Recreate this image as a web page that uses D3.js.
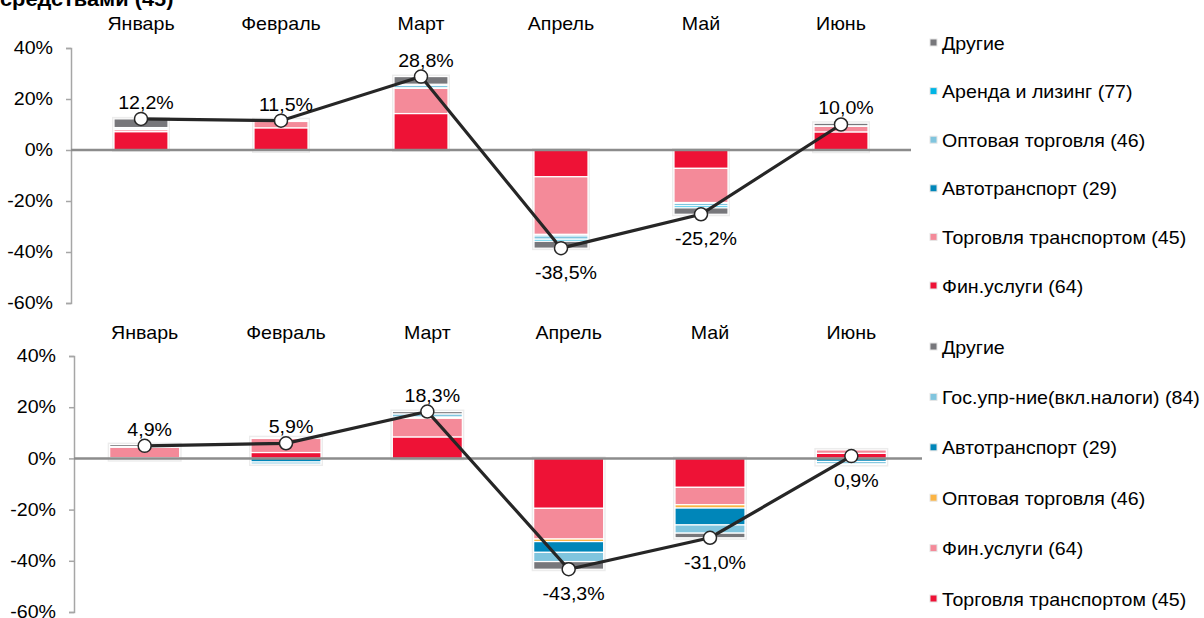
<!DOCTYPE html>
<html>
<head>
<meta charset="utf-8">
<script src="https://cdn.jsdelivr.net/npm/d3@7"></script>
<style>
  body { margin: 0; background: #fff; }
  svg { display: block; font-family: "Liberation Sans", Arial, sans-serif; }
</style>
</head>
<body>
<svg id="chart" width="1204" height="618"></svg>
<script>
// Months shared by both panels
const months = ['Январь', 'Февраль', 'Март', 'Апрель', 'Май', 'Июнь'];
const yTicks = [40, 20, 0, -20, -40, -60];

// Upper panel (stack order bottom -> top)
const topNames = ['Фин.услуги (64)', 'Торговля транспортом (45)', 'Автотранспорт (29)',
                  'Оптовая торговля (46)', 'Аренда и лизинг (77)', 'Другие'];
const topColors = ['#ee1236', '#f48a99', '#0086b9', '#80c5de', '#00b5e5', '#77777b'];
const topFin    = [7.2, 8.7, 14.3, -10.5, -7.2, 7.1];
const topTrade  = [0.8, 2.5, 9.9, -22.6, -13.4, 2.2];
const topAuto   = [0, 0, 0.2, -0.6, -0.3, 0];
const topWhole  = [0.5, -0.4, 1.0, -1.3, -1.0, -0.5];
const topLease  = [0.3, 0.3, 0.4, -0.8, -0.8, 0.2];
const topOther  = [3.4, 0.4, 3.0, -2.7, -2.5, 1.0];
const topTotals = [12.2, 11.5, 28.8, -38.5, -25.2, 10.0];
const topLabelSide = ['up', 'up', 'up', 'down', 'down', 'up'];

// Lower panel (stack order bottom -> top)
const botNames = ['Торговля транспортом (45)', 'Фин.услуги (64)', 'Оптовая торговля (46)',
                  'Автотранспорт (29)', 'Гос.упр-ние(вкл.налоги) (84)', 'Другие'];
const botColors = ['#ee1236', '#f48a99', '#fbb444', '#0086b9', '#80c5de', '#77777b'];
const botTrade  = [0.3, 2.3, 8.4, -19.5, -11.3, 2.0];
const botFin    = [4.1, 5.5, 7.3, -12.0, -6.8, 1.3];
const botWhole  = [0, 0, 0.3, -1.0, -1.3, 0];
const botAuto   = [-0.5, -1.4, 0.2, -4.2, -6.6, -1.2];
const botGov    = [0.2, -0.8, 1.2, -3.6, -3.2, -1.0];
const botOther  = [0.8, 0.3, 0.9, -3.0, -1.8, -0.2];
const botTotals = [4.9, 5.9, 18.3, -43.3, -31.0, 0.9];
const botLabelSide = ['up', 'up', 'up', 'down', 'down', 'down'];

const svg = d3.select('#chart');
const fmt = v => d3.format('.1f')(v).replace('.', ',').replace('\u2212', '-') + '%';

// cut-off title at the very top
svg.append('text')
    .attr('x', 0).attr('y', 6)
    .attr('font-size', 20).attr('font-weight', 'bold')
    .attr('fill', '#000')
    .text('средствами (45)');

function drawPanel(cfg) {
    const x = d3.scaleBand().domain(months).range(cfg.xRange).paddingInner(0).paddingOuter(0);
    const y = d3.scaleLinear().domain([-60, 40]).range(cfg.yRange);
    const barW = cfg.barW;
    const g = svg.append('g');

    // table for stacking
    const rows = months.map((m, i) => {
        const r = { month: m };
        cfg.names.forEach((n, k) => { r[n] = cfg.series[k][i]; });
        return r;
    });
    const stacked = d3.stack().keys(cfg.names).offset(d3.stackOffsetDiverging)(rows);

    // y axis
    const axis = d3.axisLeft(y).tickValues(yTicks).tickSize(5).tickPadding(13)
        .tickFormat(d => d + '%');
    const ax = g.append('g').attr('transform', `translate(${cfg.xRange[0]},0)`).call(axis);
    ax.select('.domain').attr('stroke', '#a6a6a6').attr('stroke-width', 1.5);
    ax.selectAll('.tick line').attr('stroke', '#a6a6a6').attr('stroke-width', 1.5);
    ax.selectAll('.tick text').attr('font-size', 18).attr('fill', '#000')
        .attr('font-family', '"Liberation Sans", Arial, sans-serif');

    // month labels
    g.selectAll('.month').data(months).join('text')
        .attr('x', d => x(d) + x.bandwidth() / 2)
        .attr('y', cfg.monthY)
        .attr('text-anchor', 'middle')
        .attr('font-size', 18)
        .text(d => d);

    // bar frames (light shadow)
    g.selectAll('.frame').data(months).join('rect')
        .attr('x', d => x(d) + (x.bandwidth() - barW) / 2 - 2)
        .attr('width', barW + 4)
        .attr('y', (d, i) => y(d3.max(stacked, s => s[i][1])) - 2)
        .attr('height', (d, i) => y(d3.min(stacked, s => s[i][0])) - y(d3.max(stacked, s => s[i][1])) + 4)
        .attr('fill', '#ececec');

    // stacked segments
    g.selectAll('.layer').data(stacked).join('g')
        .attr('fill', (d, k) => cfg.colors[k])
        .selectAll('rect').data(d => d).join('rect')
        .attr('x', d => x(d.data.month) + (x.bandwidth() - barW) / 2)
        .attr('width', barW)
        .attr('y', d => y(Math.max(d[0], d[1])))
        .attr('height', d => Math.abs(y(d[0]) - y(d[1])))
        .attr('stroke', '#fff')
        .attr('stroke-width', 1.2);

    // zero line
    g.append('line')
        .attr('x1', cfg.xRange[0]).attr('x2', cfg.xRange[1])
        .attr('y1', y(0)).attr('y2', y(0))
        .attr('stroke', '#8c8c8c').attr('stroke-width', 2.5);

    // total line
    const line = d3.line()
        .x((d, i) => x(months[i]) + x.bandwidth() / 2)
        .y(d => y(d));
    g.append('path').datum(cfg.totals)
        .attr('d', line)
        .attr('fill', 'none')
        .attr('stroke', '#262626')
        .attr('stroke-width', 3.2);

    g.selectAll('.dot').data(cfg.totals).join('circle')
        .attr('cx', (d, i) => x(months[i]) + x.bandwidth() / 2)
        .attr('cy', d => y(d))
        .attr('r', 6.5)
        .attr('fill', '#fff')
        .attr('stroke', '#262626')
        .attr('stroke-width', 1.5);

    g.selectAll('.vlabel').data(cfg.totals).join('text')
        .attr('x', (d, i) => x(months[i]) + x.bandwidth() / 2 + 5)
        .attr('y', (d, i) => y(d) + (cfg.labelSide[i] === 'up' ? -10 : 31))
        .attr('text-anchor', 'middle')
        .attr('font-size', 18)
        .text(d => fmt(d));

    // legend (reverse of stack order)
    const legendNames = cfg.names.slice().reverse();
    const legendColors = cfg.colors.slice().reverse();
    const lg = g.selectAll('.leg').data(legendNames).join('g')
        .attr('transform', (d, i) => `translate(930,${cfg.legendY + i * cfg.legendStep})`);
    lg.append('rect')
        .attr('x', 0).attr('y', -4).attr('width', 7).attr('height', 7)
        .attr('fill', (d, i) => legendColors[i])
        .attr('stroke', '#e6e6e6').attr('stroke-width', 1);
    lg.append('text')
        .attr('x', 12).attr('y', 6.5)
        .attr('font-size', 18)
        .text(d => d);
}

drawPanel({
    xRange: [71, 911], yRange: [303, 48], barW: 54, monthY: 30,
    names: topNames, colors: topColors,
    series: [topFin, topTrade, topAuto, topWhole, topLease, topOther],
    totals: topTotals, labelSide: topLabelSide,
    legendY: 43, legendStep: 48.6
});

drawPanel({
    xRange: [74, 922], yRange: [612, 356], barW: 70, monthY: 339,
    names: botNames, colors: botColors,
    series: [botTrade, botFin, botWhole, botAuto, botGov, botOther],
    totals: botTotals, labelSide: botLabelSide,
    legendY: 347, legendStep: 50.4
});

// the source text is a bit wider than Arial: stretch glyphs horizontally around their anchor
svg.selectAll('text').each(function() {
    const tx = +this.getAttribute('x') || 0;
    this.setAttribute('transform', `translate(${tx},0) scale(1.09,1) translate(${-tx},0)`);
});
</script>
</body>
</html>
